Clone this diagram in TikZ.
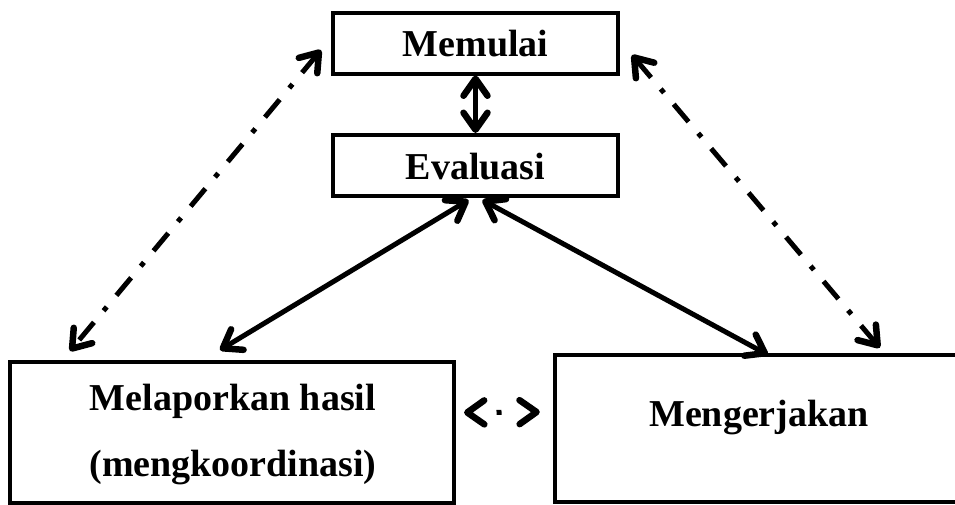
\documentclass[tikz,border=0pt]{standalone}
\usepackage{fontspec}
\setmainfont{Liberation Serif}
\usetikzlibrary{arrows.meta}
\tikzset{mytip/.tip={Straight Barb[length=17pt,width=24pt,line width=6.5pt,round]}}
\begin{document}
\begin{tikzpicture}[x=1pt,y=-1pt,
  boxstyle/.style={draw=black,line width=4pt,rectangle,inner sep=0pt},
  txt/.style={font=\fontsize{38}{66}\selectfont\bfseries,align=center,inner sep=0pt},
  solidarrow/.style={line width=5pt,mytip-mytip},
  dasharrow/.style={line width=5pt,mytip-mytip,dash pattern=on 23pt off 15pt on 5pt off 15pt},
  shortarrow/.style={line width=5pt,mytip-mytip,dash pattern=on 0pt off 26pt on 5pt off 60pt}
]
\useasboundingbox (0,0) rectangle (955,504);
\node[boxstyle,minimum width=285pt,minimum height=61pt] (m) at (475.5,43) {};
\node[txt] (mt) at (475.5,44) {Memulai};
\node[boxstyle,minimum width=285pt,minimum height=61pt] (e) at (475.5,165.5) {};
\node[txt] (et) at (475.5,167) {Evaluasi};
\node[boxstyle,minimum width=444pt,minimum height=141pt] (l) at (232,432.5) {};
\node[txt] (lt) at (233,434) {Melaporkan hasil\\(mengkoordinasi)};
\node[rectangle,inner sep=0pt,minimum width=440pt,minimum height=147pt] (r) at (775,428.5) {};
\draw[line width=4pt] (r.north east) -- (r.north west) -- (r.south west) -- (r.south east);
\node[txt] (rt) at (759,418) {Mengerjakan};

\draw[solidarrow] (m.south) -- (e.north);
\draw[solidarrow] ([shift={(-7,2)}]e.south) -- ([shift={(-12,-10)}]l.north);
\draw[solidarrow] ([shift={(7,2)}]e.south) -- ([shift={(213,0)}]r.north west);
\draw[dasharrow] ([shift={(-10,7)}]m.west) -- ([shift={(62,-9)}]l.north west);
\draw[dasharrow] ([shift={(12,12)}]m.east) -- ([shift={(325,-7)}]r.north west);
\draw[shortarrow] ([shift={(8,-20)}]l.east) -- ([shift={(-15,-16.5)}]r.west);
\end{tikzpicture}
\end{document}
